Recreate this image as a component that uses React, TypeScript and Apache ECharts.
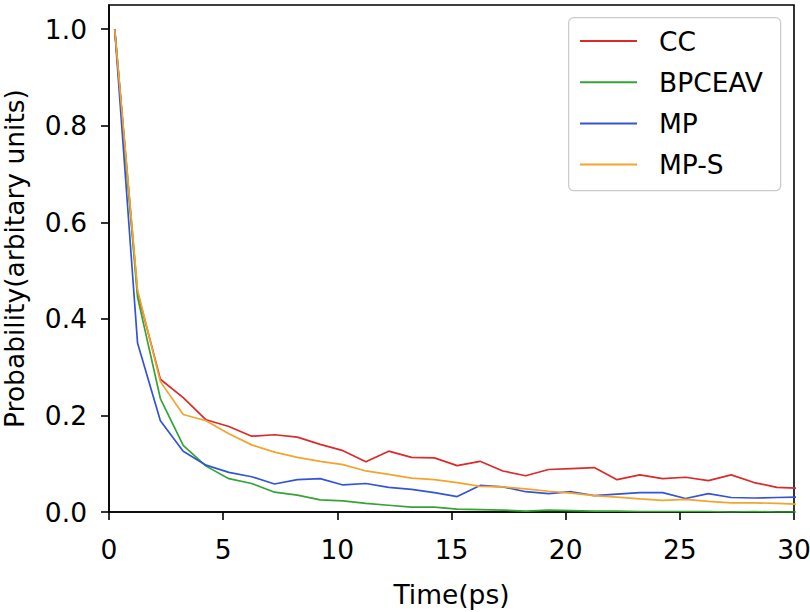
import React, { useEffect, useRef } from "react";
import * as echarts from "echarts";

const seriesNames = ["CC", "BPCEAV", "MP", "MP-S"];
const seriesColors = ["#dc2a2a", "#34a534", "#3454d8", "#f5a32c"];

const times = [
  0.25, 1.25, 2.25, 3.25, 4.25, 5.25, 6.25, 7.25, 8.25, 9.25,
  10.25, 11.25, 12.25, 13.25, 14.25, 15.25, 16.25, 17.25, 18.25, 19.25,
  20.25, 21.25, 22.25, 23.25, 24.25, 25.25, 26.25, 27.25, 28.25, 29.25, 30.25,
];

const ccValues = [
  1.0, 0.455, 0.275, 0.237, 0.191, 0.177, 0.157, 0.16, 0.155, 0.14,
  0.127, 0.104, 0.126, 0.113, 0.112, 0.096, 0.105, 0.085, 0.075, 0.088,
  0.09, 0.092, 0.067, 0.077, 0.069, 0.072, 0.065, 0.077, 0.061, 0.051, 0.049,
];

const bpceavValues = [
  1.0, 0.445, 0.235, 0.138, 0.095, 0.069, 0.059, 0.041, 0.035, 0.025,
  0.023, 0.018, 0.014, 0.01, 0.01, 0.006, 0.005, 0.004, 0.002, 0.004,
  0.003, 0.002, 0.002, 0.001, 0.001, 0.001, 0.001, 0.0, 0.001, 0.0, 0.0,
];

const mpValues = [
  1.0, 0.35, 0.189, 0.126, 0.097, 0.082, 0.073, 0.058, 0.067, 0.069,
  0.056, 0.059, 0.051, 0.047, 0.04, 0.032, 0.055, 0.052, 0.042, 0.038,
  0.042, 0.034, 0.037, 0.04, 0.04, 0.028, 0.038, 0.03, 0.029, 0.03, 0.031,
];

const mpsValues = [
  1.0, 0.46, 0.27, 0.202, 0.189, 0.162, 0.139, 0.124, 0.113, 0.105,
  0.098, 0.085, 0.078, 0.07, 0.067, 0.061, 0.053, 0.052, 0.048, 0.043,
  0.039, 0.034, 0.031, 0.027, 0.024, 0.026, 0.022, 0.019, 0.019, 0.018, 0.016,
];

const xTicks = [0, 5, 10, 15, 20, 25, 30];
const yTicks = [0, 0.2, 0.4, 0.6, 0.8, 1.0];

const FONT = "DejaVu Sans";
const FS = 26.5;

export default function App() {
  const ref = useRef<HTMLDivElement>(null);

  useEffect(() => {
    if (!ref.current) return;
    const chart = echarts.init(ref.current, undefined, { renderer: "svg" });
    const allValues = [ccValues, bpceavValues, mpValues, mpsValues];
    const option = {
      animation: false,
      backgroundColor: "#ffffff",
      grid: {
        left: 109,
        right: 16,
        top: 5,
        bottom: 100,
        containLabel: false,
        outerBoundsMode: "none",
        show: true,
        borderColor: "#000000",
        borderWidth: 1.6,
        backgroundColor: "transparent",
      },
      xAxis: {
        type: "value",
        min: 0,
        max: 30,
        interval: 5,
        name: "Time(ps)",
        nameLocation: "middle",
        nameGap: 69,
        nameTextStyle: { fontSize: FS, color: "#000", fontFamily: FONT },
        axisLine: { show: true, lineStyle: { color: "#000", width: 1.6 } },
        axisTick: {
          show: true,
          inside: false,
          length: 8,
          customValues: xTicks,
          lineStyle: { color: "#000", width: 1.6 },
        },
        axisLabel: {
          fontSize: FS,
          color: "#000",
          fontFamily: FONT,
          margin: 24,
          customValues: xTicks,
        },
        splitLine: { show: false },
      },
      yAxis: {
        type: "value",
        min: 0,
        max: 1.05,
        name: "Probability(arbitary units)",
        nameLocation: "middle",
        nameRotate: 90,
        nameGap: 81,
        nameTextStyle: { fontSize: FS, color: "#000", fontFamily: FONT },
        axisLine: { show: true, lineStyle: { color: "#000", width: 1.6 } },
        axisTick: {
          show: true,
          inside: false,
          length: 8,
          customValues: yTicks,
          lineStyle: { color: "#000", width: 1.6 },
        },
        axisLabel: {
          fontSize: FS,
          color: "#000",
          fontFamily: FONT,
          margin: 22,
          customValues: yTicks,
          formatter: (v: number) => v.toFixed(1),
        },
        splitLine: { show: false },
      },
      legend: {
        orient: "vertical",
        left: 580,
        top: 27.5,
        padding: 0,
        icon: "rect",
        itemWidth: 57,
        itemHeight: 2,
        itemGap: 14.2,
        data: seriesNames,
        textStyle: {
          fontSize: FS,
          lineHeight: FS,
          color: "#000",
          fontFamily: FONT,
          padding: [0, 0, 0, 17],
        },
      },
      graphic: [
        {
          type: "rect",
          left: 568,
          top: 17,
          z: 0,
          shape: { width: 212, height: 173, r: 5 },
          style: { fill: "rgba(255,255,255,0.8)", stroke: "#cccccc", lineWidth: 1.3 },
        },
      ],
      series: seriesNames.map((name, k) => ({
        name,
        type: "line",
        data: times.map((t, i) => [t, allValues[k][i]]),
        showSymbol: false,
        symbol: "none",
        clip: true,
        lineStyle: { color: seriesColors[k], width: 1.7 },
        itemStyle: { color: seriesColors[k] },
      })),
    };
    chart.setOption(option as any);
    return () => chart.dispose();
  }, []);

  return (
    <div
      ref={ref}
      style={{ position: "fixed", left: 0, top: 0, width: 810, height: 612 }}
    />
  );
}
